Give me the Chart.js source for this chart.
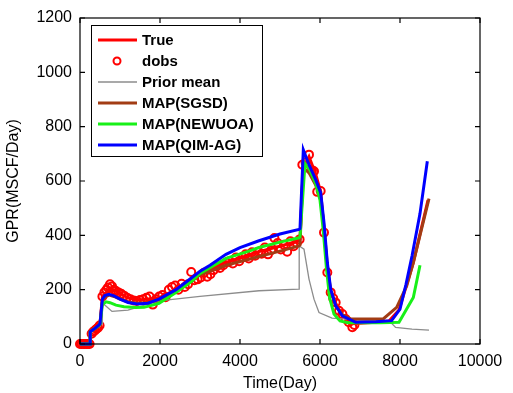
<!DOCTYPE html>
<html>
<head>
<meta charset="utf-8">
<script src="https://cdn.jsdelivr.net/npm/chart.js@4"></script>
<style>
  html, body { margin: 0; padding: 0; background: #fff; }
  #wrap { width: 513px; height: 393px; }
</style>
</head>
<body>
<div id="wrap"><canvas id="gpr-chart" width="513" height="393"></canvas></div>
<script>
// x tick values / y tick values
const xTicks = [0, 2000, 4000, 6000, 8000, 10000];
const yTicks = [0, 200, 400, 600, 800, 1000, 1200];

// True (reference) rate
const trueT = [0, 250, 255, 350, 475, 500, 560, 725, 900, 1200, 1500, 1975, 2400, 2800, 3650, 4475, 5000, 5475, 5500, 5580, 5725, 5892, 6017, 6100, 6183, 6267, 6392, 6558, 6800, 7400, 7725, 7975, 8333, 8700];
const trueV = [0, 0, 45, 55, 70, 75, 175, 200, 195, 170, 162, 170, 200, 240, 300, 340, 360, 380, 385, 650, 690, 625, 560, 420, 270, 195, 150, 105, 75, 80, 85, 125, 300, 530];

// observed data (dobs)
const obsT = [0, 40, 80, 120, 160, 200, 240, 290, 330, 370, 410, 450, 490,
  560, 610, 660, 700, 750, 800, 850, 900, 960, 1030, 1100, 1180,
  1260, 1340, 1420, 1500, 1580, 1660, 1740, 1820, 1900, 1980,
  2060, 2140, 2220, 2300, 2380, 2460, 2540, 2620, 2700, 2780,
  2860, 2940, 3020, 3100, 3180, 3260, 3340, 3420, 3500, 3580,
  3660, 3740, 3820, 3900, 3980, 4060, 4140, 4220, 4300, 4380,
  4460, 4540, 4620, 4700, 4780, 4860, 4940, 5020, 5100, 5180,
  5260, 5340, 5420, 5490,
  5558, 5640, 5725, 5800, 5850, 5930, 6017, 6100, 6183, 6267, 6330, 6392, 6475, 6560, 6642, 6720, 6808, 6860];
const obsV = [0, 0, 0, 0, 0, 0, 0, 38, 45, 50, 55, 60, 68,
  175, 190, 200, 208, 220, 212, 200, 195, 190, 185, 178, 170,
  165, 160, 158, 162, 165, 170, 175, 145, 165, 175,
  180, 172, 200, 210, 215, 200, 222, 210, 220, 265,
  235, 238, 245, 262, 248, 257, 272, 285, 280, 290,
  300, 305, 296, 318, 305, 320, 330, 315, 338, 325,
  340, 332, 355, 330, 345, 390, 372, 348, 365, 340,
  378, 360, 372, 385,
  660, 668, 697, 640, 636, 560, 563, 410, 263, 190, 168, 153, 122, 110, 92, 80, 62, 70];

// prior mean
const priorT = [0, 250, 255, 475, 550, 560, 640, 800, 1200, 1975, 3000, 4475, 5475, 5480, 5600, 5725, 5850, 5975, 6300, 7000, 7725, 7890, 8300, 8725];
const priorV = [0, 0, 45, 70, 75, 150, 141, 120, 125, 159, 175, 196, 202, 361, 349, 239, 165, 116, 95, 88, 86, 61, 55, 51];

// MAP(SGSD)
const sgsdT = [0, 250, 255, 350, 475, 500, 560, 620, 725, 850, 1000, 1200, 1425, 1700, 1975, 2400, 2800, 3000, 3650, 4225, 4475, 5000, 5475, 5500, 5580, 5725, 5892, 6017, 6100, 6183, 6267, 6392, 6558, 6770, 7200, 7580, 7917, 8167, 8333, 8725];
const sgsdV = [0, 0, 45, 55, 70, 75, 160, 172, 180, 175, 165, 155, 150, 152, 163, 195, 232, 255, 290, 312, 322, 342, 361, 365, 650, 630, 585, 540, 430, 290, 195, 140, 108, 92, 92, 92, 135, 214, 300, 535];

// MAP(NEWUOA)
const newuoaT = [0, 250, 255, 350, 475, 500, 560, 650, 750, 900, 1100, 1400, 1600, 1975, 2400, 2800, 3000, 3650, 4225, 4475, 5000, 5475, 5500, 5625, 5750, 5892, 6000, 6080, 6160, 6240, 6350, 6500, 6700, 7500, 7975, 8333, 8500];
const newuoaV = [0, 0, 45, 55, 68, 72, 145, 155, 152, 143, 137, 134, 135, 150, 190, 232, 260, 315, 342, 355, 375, 391, 395, 664, 640, 590, 530, 420, 280, 170, 110, 85, 78, 78, 80, 171, 290];

// MAP(QIM-AG)
const qimT = [0, 250, 255, 350, 475, 500, 560, 620, 725, 850, 1000, 1200, 1425, 1700, 1975, 2400, 2800, 3000, 3250, 3650, 4000, 4475, 5000, 5475, 5500, 5583, 5725, 5892, 6017, 6100, 6183, 6267, 6392, 6558, 6892, 7400, 7790, 8000, 8150, 8300, 8500, 8683];
const qimV = [0, 0, 45, 55, 70, 75, 165, 178, 183, 177, 165, 153, 147, 150, 165, 200, 245, 268, 290, 330, 355, 380, 405, 422, 425, 715, 660, 605, 557, 447, 300, 202, 141, 104, 80, 82, 86, 128, 220, 324, 480, 673];

const FONT = '"Liberation Sans", Arial, Helvetica, sans-serif';

function pts(t, v) {
  return t.map((x, i) => ({ x: x, y: v[i] }));
}

const series = [
  { label: 'True', t: trueT, v: trueV, color: '#ff0000', width: 3, order: 6 },
  { label: 'dobs', t: obsT, v: obsV, color: '#ff0000', width: 0, order: 5, marker: true },
  { label: 'Prior mean', t: priorT, v: priorV, color: '#8c8c8c', width: 1.3, order: 4 },
  { label: 'MAP(SGSD)', t: sgsdT, v: sgsdV, color: '#a23c14', width: 3, order: 3 },
  { label: 'MAP(NEWUOA)', t: newuoaT, v: newuoaV, color: '#18f018', width: 3, order: 2 },
  { label: 'MAP(QIM-AG)', t: qimT, v: qimV, color: '#0000ff', width: 3, order: 1 }
];

const datasets = series.map(s => s.marker ? {
  label: s.label,
  data: pts(s.t, s.v),
  showLine: false,
  borderColor: s.color,
  backgroundColor: 'rgba(0,0,0,0)',
  pointRadius: 4,
  pointBorderWidth: 2,
  pointStyle: 'circle',
  order: s.order,
  clip: 6
} : {
  label: s.label,
  data: pts(s.t, s.v),
  borderColor: s.color,
  backgroundColor: s.color,
  borderWidth: s.width,
  pointRadius: 0,
  tension: 0,
  fill: false,
  order: s.order,
  clip: 3
});

// box, inward ticks and matlab-like legend
const framePlugin = {
  id: 'frame',
  afterDraw(chart) {
    const { ctx, chartArea: a, scales } = chart;
    const x = scales.x, y = scales.y;
    ctx.save();
    ctx.strokeStyle = '#000';
    ctx.lineWidth = 1.2;
    ctx.strokeRect(a.left, a.top, a.right - a.left, a.bottom - a.top);
    ctx.beginPath();
    xTicks.forEach(v => {
      const px = x.getPixelForValue(v);
      ctx.moveTo(px, a.bottom); ctx.lineTo(px, a.bottom - 5);
      ctx.moveTo(px, a.top); ctx.lineTo(px, a.top + 5);
    });
    yTicks.forEach(v => {
      const py = y.getPixelForValue(v);
      ctx.moveTo(a.left, py); ctx.lineTo(a.left + 5, py);
      ctx.moveTo(a.right, py); ctx.lineTo(a.right - 5, py);
    });
    ctx.stroke();

    // legend
    const lx = 91, ly = 25, lw = 171, lh = 131;
    ctx.fillStyle = '#fff';
    ctx.fillRect(lx, ly, lw, lh);
    ctx.lineWidth = 1;
    ctx.strokeRect(lx + 0.5, ly + 0.5, lw, lh);
    ctx.font = 'bold 15px ' + FONT;
    ctx.textBaseline = 'middle';
    ctx.textAlign = 'left';
    series.forEach((s, i) => {
      const cy = 40 + i * 21;
      if (s.marker) {
        ctx.strokeStyle = s.color;
        ctx.lineWidth = 2;
        ctx.beginPath();
        ctx.arc(117, cy, 3.5, 0, Math.PI * 2);
        ctx.stroke();
      } else {
        ctx.strokeStyle = s.color;
        ctx.lineWidth = s.width;
        ctx.beginPath();
        ctx.moveTo(98, cy); ctx.lineTo(137, cy);
        ctx.stroke();
      }
      ctx.fillStyle = '#000';
      ctx.fillText(s.label, 142, cy + 1);
    });
    ctx.restore();
  }
};

new Chart(document.getElementById('gpr-chart'), {
  type: 'line',
  data: { datasets },
  options: {
    responsive: false,
    animation: false,
    layout: { padding: { top: 18, right: 33, left: 0, bottom: 0 } },
    plugins: { legend: { display: false }, tooltip: { enabled: false } },
    scales: {
      x: {
        type: 'linear',
        min: 0, max: 10000,
        afterBuildTicks: s => { s.ticks = xTicks.map(v => ({ value: v })); },
        afterFit: s => { s.height = 49; },
        grid: { display: false },
        border: { display: false },
        ticks: { color: '#000', font: { family: FONT, size: 16 }, padding: 0, maxRotation: 0, callback: v => String(v) },
        title: { display: true, text: 'Time(Day)', color: '#000', font: { family: FONT, size: 16 }, padding: { top: 0, bottom: 0 } }
      },
      y: {
        type: 'linear',
        min: 0, max: 1200,
        afterBuildTicks: s => { s.ticks = yTicks.map(v => ({ value: v })); },
        afterFit: s => { s.width = 80; },
        grid: { display: false },
        border: { display: false },
        ticks: { color: '#000', font: { family: FONT, size: 16 }, padding: 0, callback: v => String(v) },
        title: { display: true, text: 'GPR(MSCF/Day)', color: '#000', font: { family: FONT, size: 16 }, padding: { top: 4, bottom: 0 } }
      }
    }
  },
  plugins: [framePlugin]
});
</script>
</body>
</html>
